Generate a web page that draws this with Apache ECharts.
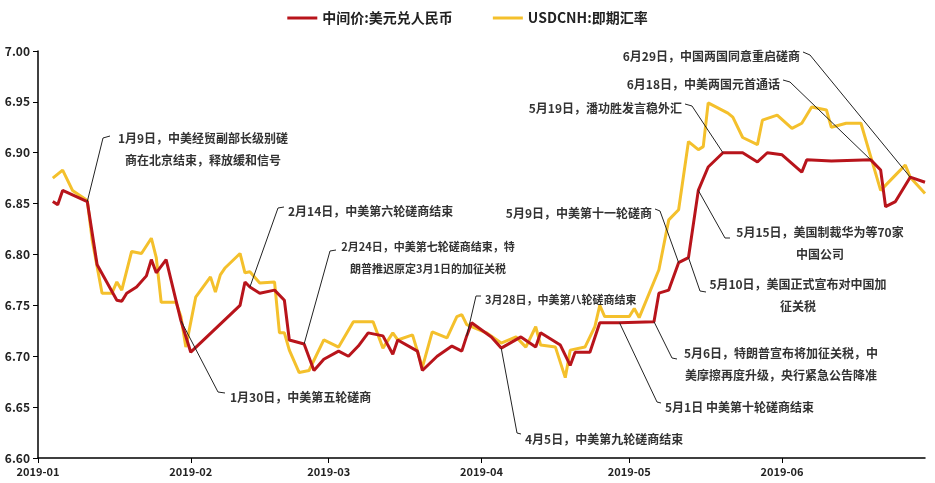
<!DOCTYPE html>
<html><head><meta charset="utf-8">
<script src="https://cdn.jsdelivr.net/npm/echarts@6/dist/echarts.min.js"></script>
<style>html,body{margin:0;padding:0;background:#fff}#c{width:935px;height:483px}</style>
</head><body><div id="c"></div>
<script>
// day offsets from 2019-01-01 and values
const redDays = [3,4,5,10,12,16,17,18,20,22,23,24,26,28,29,31,41,42,43,45,48,50,51,54,56,58,61,63,65,67,70,72,73,77,78,81,84,86,87,88,92,94,98,101,102,106,108,109,112,114,118,125,126,128,130,132,134,136,139,143,146,148,151,155,156,161,169,171,172,174,177,180];
const redVals = [6.852,6.849,6.863,6.852,6.790,6.755,6.754,6.762,6.768,6.779,6.795,6.782,6.795,6.755,6.735,6.704,6.750,6.773,6.768,6.762,6.765,6.755,6.716,6.712,6.686,6.697,6.705,6.700,6.710,6.723,6.720,6.702,6.716,6.705,6.686,6.700,6.710,6.705,6.720,6.733,6.719,6.708,6.719,6.709,6.723,6.711,6.691,6.704,6.704,6.733,6.733,6.734,6.762,6.765,6.792,6.797,6.863,6.886,6.900,6.900,6.891,6.900,6.898,6.881,6.893,6.892,6.893,6.883,6.847,6.852,6.876,6.871];
const yelDays = [3,5,7,10,11,13,15,16,17,19,21,23,24,25,28,29,30,32,35,36,37,38,41,42,43,45,48,49,50,51,53,55,58,61,64,68,70,72,73,76,78,80,83,85,86,87,91,94,97,99,101,102,105,107,108,111,113,114,115,120,121,122,126,128,130,132,134,135,136,140,141,143,146,147,150,153,155,157,160,161,164,167,169,171,174,176,177,180];
const yelVals = [6.875,6.883,6.863,6.853,6.814,6.762,6.762,6.773,6.765,6.803,6.801,6.816,6.797,6.753,6.753,6.739,6.709,6.758,6.778,6.763,6.780,6.787,6.801,6.782,6.783,6.772,6.773,6.723,6.723,6.706,6.684,6.686,6.716,6.709,6.734,6.734,6.708,6.723,6.716,6.721,6.689,6.724,6.718,6.739,6.741,6.731,6.723,6.713,6.719,6.709,6.729,6.711,6.709,6.679,6.706,6.709,6.729,6.750,6.739,6.739,6.747,6.738,6.785,6.834,6.844,6.911,6.903,6.906,6.949,6.939,6.935,6.915,6.908,6.932,6.937,6.924,6.929,6.945,6.942,6.925,6.929,6.929,6.896,6.863,6.878,6.888,6.876,6.860];
const seriesNames = ['中间价:美元兑人民币','USDCNH:即期汇率'];
const yTicks = {min:6.60,max:7.00,step:0.05};

const T0 = Date.UTC(2019,0,1);
const DAY = 86400000;
const toPts = (d,v)=>d.map((x,i)=>[T0+x*DAY, v[i]]);

// annotations: text, anchor [dayOffset, value], label x (left or center), top, elbow
const notes = [
 {t:'1月9日，中美经贸副部长级别磋\n商在北京结束，释放缓和信号', a:[10,6.852], cx:203, y:127, e:[[110,136],[103,138]]},
 {t:'2月14日，中美第六轮磋商结束', a:[43,6.768], x:288, y:200, e:[[284,207],[278,208]]},
 {t:'2月24日，中美第七轮磋商结束，特\n朗普推迟原定3月1日的加征关税', a:[54,6.712], cx:428, y:236, fs:11, e:[[336,250],[330,251]]},
 {t:'1月30日，中美第五轮磋商', a:[29,6.735], x:230, y:386, e:[[225,393],[218,392]]},
 {t:'3月28日，中美第八轮磋商结束', a:[87,6.720], x:485, y:289, fs:11, e:[[481,296],[476,296]]},
 {t:'4月5日，中美第九轮磋商结束', a:[94,6.708], x:525, y:428, e:[[521,434],[517,433]]},
 {t:'5月1日 中美第十轮磋商结束', a:[118,6.733], x:665, y:396, e:[[661,403],[657,402]]},
 {t:'5月6日，特朗普宣布将加征关税，中\n美摩擦再度升级，央行紧急公告降准', a:[125,6.734], cx:781, y:342, e:[[677,359],[672,358]]},
 {t:'5月9日，中美第十一轮磋商', a:[130,6.792], right:true, y:202, e:[[655,209],[660,211]]},
 {t:'5月10日，美国正式宣布对中国加\n征关税', a:[132,6.797], cx:798, y:273, e:[[706,292],[700,291]]},
 {t:'5月15日，美国制裁华为等70家\n中国公司', a:[134,6.863], cx:820, y:221, e:[[730,238],[725,238]]},
 {t:'5月19日，潘功胜发言稳外汇', a:[139,6.900], right:true, y:97, e:[[685,104],[692,106]]},
 {t:'6月18日，中美两国元首通话', a:[169,6.893], right:true, y:73, e:[[783,80],[790,82]]},
 {t:'6月29日，中国两国同意重启磋商', a:[177,6.876], right:true, y:45, e:[[803,52],[810,55]]}
];

const chart = echarts.init(document.getElementById('c'));
const F = '"Noto Sans CJK SC","Noto Sans",sans-serif';
chart.setOption({
 animation:false,
 textStyle:{fontFamily:F},
 legend:{top:6,left:'center',itemWidth:30,itemGap:40,icon:'rect',itemHeight:3,
   textStyle:{fontSize:14,fontWeight:'bold',color:'#222',fontFamily:F}},
 grid:{left:38,right:10,top:51,bottom:25},
 xAxis:{type:'time',min:T0,max:Date.UTC(2019,5,30),
   axisLine:{lineStyle:{color:'#000',width:1.5}},
   axisTick:{show:true,lineStyle:{color:'#000'}},
   axisLabel:{formatter:'{yyyy}-{MM}',color:'#222',fontWeight:'bold',fontSize:11,hideOverlap:false},
   splitLine:{show:false}, minInterval:28*DAY},
 yAxis:{type:'value',min:yTicks.min,max:yTicks.max,interval:yTicks.step,
   axisLine:{show:true,lineStyle:{color:'#000',width:1.5}},axisTick:{show:true,lineStyle:{color:'#000'}},
   axisLabel:{formatter:v=>v.toFixed(2),color:'#222',fontWeight:'bold',fontSize:12},
   splitLine:{show:false}},
 series:[
  {name:seriesNames[0],type:'line',data:toPts(redDays,redVals),symbol:'none',z:3,
   lineStyle:{color:'#B8141B',width:3},itemStyle:{color:'#B8141B'}},
  {name:seriesNames[1],type:'line',data:toPts(yelDays,yelVals),symbol:'none',z:2,
   lineStyle:{color:'#F4C02C',width:3},itemStyle:{color:'#F4C02C'}}
 ]
});
const g = [];
notes.forEach(n=>{
  const p = chart.convertToPixel({gridIndex:0},[T0+n.a[0]*DAY,n.a[1]]);
  g.push({type:'polyline',z:10,shape:{points:[n.e[0],n.e[1],p]},style:{stroke:'#222',lineWidth:1,fill:null}});
  let x, align;
  if(n.right){x=n.e[0][0]-3; align='right';}
  else if(n.cx!==undefined){x=n.cx; align='center';}
  else {x=n.x; align='left';}
  g.push({type:'text',z:10,x:x,y:n.y,
    style:{text:n.t,fontSize:n.fs||12,fontWeight:'bold',fill:'#333',fontFamily:F,lineHeight:22,align:align}});
});
chart.setOption({graphic:g});
</script></body></html>
